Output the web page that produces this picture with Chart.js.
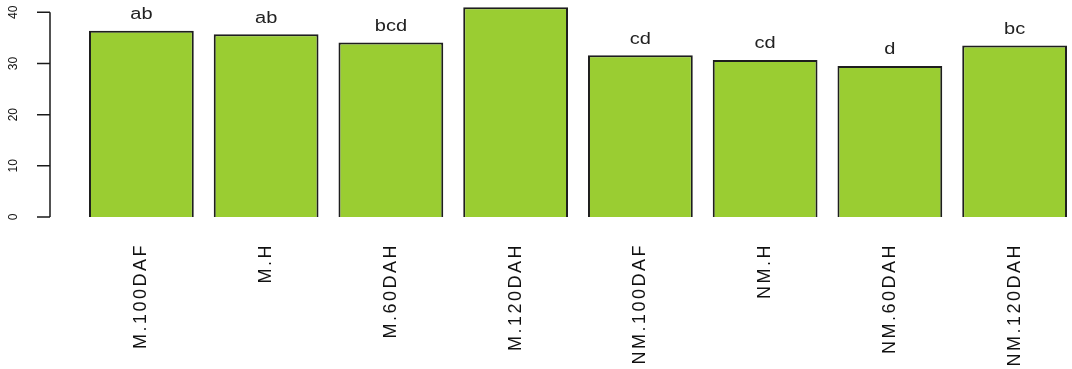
<!DOCTYPE html>
<html>
<head>
<meta charset="utf-8">
<script src="https://cdn.jsdelivr.net/npm/chart.js@4"></script>
<style>
  html, body { margin: 0; padding: 0; background: #fff; overflow: hidden; }
  #wrap { width: 1077px; height: 369px; }
</style>
</head>
<body>
<div id="wrap"><canvas id="barChart"></canvas></div>
<script>
// treatments on the x axis
const categories = ['M.100DAF', 'M.H', 'M.60DAH', 'M.120DAH', 'NM.100DAF', 'NM.H', 'NM.60DAH', 'NM.120DAH'];
// bar heights
const values = [36.4, 35.7, 34.1, 41.0, 31.6, 30.7, 29.5, 33.5];
// significance letters above bars (none over M.120DAH)
const letters = ['ab', 'ab', 'bcd', '', 'cd', 'cd', 'd', 'bc'];
// y axis tick labels
const yTicks = [0, 10, 20, 30, 40];

// R style left axis: line only from first to last tick, rotated labels
const rAxis = {
    id: 'rAxis',
    beforeDraw(chart) {
        // wider letter spacing for the rotated x labels, like the R device
        chart.ctx.letterSpacing = '2.5px';
    },
    beforeDatasetsDraw(chart) {
        chart.ctx.letterSpacing = '0px';
    },
    afterDraw(chart) {
        const ctx = chart.ctx;
        const y = chart.scales.y;
        const axisX = 50;
        ctx.save();
        ctx.strokeStyle = '#1a1a1a';
        ctx.lineWidth = 1.5;
        ctx.beginPath();
        ctx.moveTo(axisX, y.getPixelForValue(yTicks[0]));
        ctx.lineTo(axisX, y.getPixelForValue(yTicks[yTicks.length - 1]));
        yTicks.forEach(function(t) {
            var py = y.getPixelForValue(t);
            ctx.moveTo(axisX, py);
            ctx.lineTo(37, py);
        });
        ctx.stroke();
        ctx.fillStyle = '#111';
        ctx.font = '12px "Liberation Sans", Arial, sans-serif';
        ctx.textAlign = 'center';
        ctx.textBaseline = 'middle';
        yTicks.forEach(function(t) {
            ctx.save();
            ctx.translate(14, y.getPixelForValue(t));
            ctx.rotate(-Math.PI / 2);
            ctx.fillText(String(t), 0, 0);
            ctx.restore();
        });
        ctx.restore();
    }
};

// letters over each bar
const barLetters = {
    id: 'barLetters',
    afterDatasetsDraw(chart) {
        const ctx = chart.ctx;
        const bars = chart.getDatasetMeta(0).data;
        ctx.save();
        ctx.fillStyle = '#222';
        ctx.font = '16px "Liberation Sans", Arial, sans-serif';
        ctx.textAlign = 'center';
        ctx.textBaseline = 'middle';
        bars.forEach(function(bar, i) {
            if (!letters[i]) return;
            ctx.save();
            ctx.translate(bar.x, bar.y - 16);
            ctx.scale(1.25, 1);
            ctx.fillText(letters[i], 0, 0);
            ctx.restore();
        });
        ctx.restore();
    }
};

window.onload = function() {
    const ctx = document.getElementById('barChart').getContext('2d');
    new Chart(ctx, {
        type: 'bar',
        data: {
            labels: categories,
            datasets: [{
                data: values,
                backgroundColor: '#9acd32',
                borderColor: '#1e1e1e',
                borderWidth: 2,
                categoryPercentage: 0.84,
                barPercentage: 1
            }]
        },
        options: {
            responsive: true,
            maintainAspectRatio: false,
            animation: false,
            layout: { padding: { left: 79, right: 0, top: 0, bottom: 0 } },
            plugins: {
                legend: { display: false },
                tooltip: { enabled: false }
            },
            scales: {
                x: {
                    grid: { display: false, drawTicks: false },
                    border: { display: false },
                    afterFit: function(scale) { scale.height = 152; },
                    ticks: {
                        minRotation: 90,
                        maxRotation: 90,
                        padding: 26,
                        color: '#111',
                        font: { family: '"Liberation Sans", Arial, sans-serif', size: 18 }
                    }
                },
                y: {
                    display: false,
                    min: 0,
                    max: 42.4
                }
            }
        },
        plugins: [rAxis, barLetters]
    });
};
</script>
</body>
</html>
